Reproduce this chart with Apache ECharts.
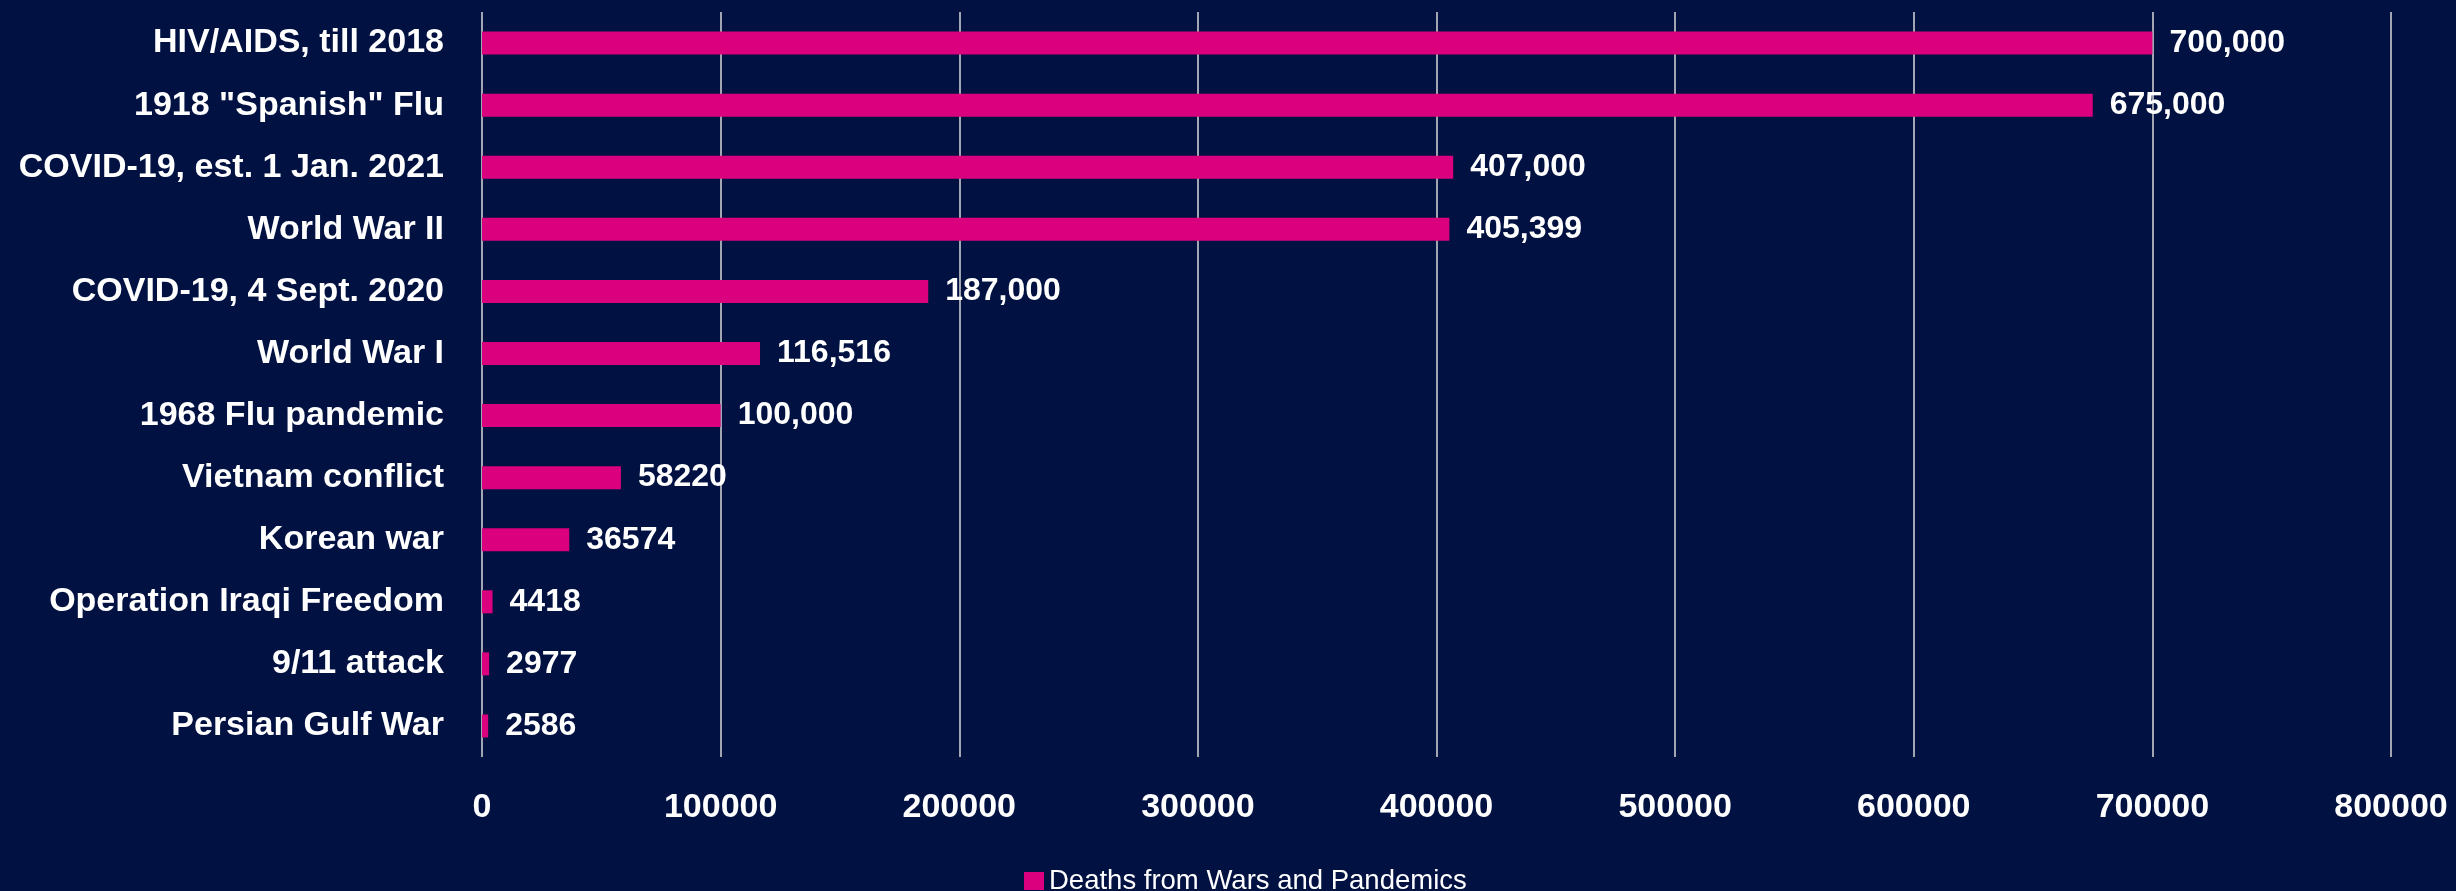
<!DOCTYPE html>
<html>
<head>
<meta charset="utf-8">
<title>Deaths from Wars and Pandemics</title>
<script src="https://cdn.jsdelivr.net/npm/echarts@6/dist/echarts.min.js"></script>
<style>
  html, body { margin: 0; padding: 0; background: #001142; }
  #chart { width: 2456px; height: 891px; }
</style>
</head>
<body>
<div id="chart"></div>
<script>
// Events, top to bottom
const categories = [
  'HIV/AIDS, till 2018',
  '1918 "Spanish" Flu',
  'COVID-19, est. 1 Jan. 2021',
  'World War II',
  'COVID-19, 4 Sept. 2020',
  'World War I',
  '1968 Flu pandemic',
  'Vietnam conflict',
  'Korean war',
  'Operation Iraqi Freedom',
  '9/11 attack',
  'Persian Gulf War'
];

// US deaths per event
const deaths = [700000, 675000, 407000, 405399, 187000, 116516, 100000, 58220, 36574, 4418, 2977, 2586];

// Value labels as written next to each bar
const valueLabels = ['700,000', '675,000', '407,000', '405,399', '187,000', '116,516', '100,000', '58220', '36574', '4418', '2977', '2586'];

const seriesName = 'Deaths from Wars and Pandemics';

// X axis range
const axisMin = 0;
const axisMax = 800000;
const axisStep = 100000;

const FONT = '"Liberation Sans", Arial, sans-serif';
const BAR = '#DA007E';

const chart = echarts.init(document.getElementById('chart'), null, { renderer: 'canvas' });

chart.setOption({
  backgroundColor: '#001142',
  animation: false,
  textStyle: { fontFamily: FONT },
  grid: { left: 482, right: 65, top: 12, bottom: 134, containLabel: false, outerBoundsMode: 'none' },
  legend: {
    data: [seriesName],
    left: 1019,
    top: 862,
    itemWidth: 20,
    itemHeight: 18,
    icon: 'rect',
    textStyle: { color: '#ffffff', fontFamily: FONT, fontSize: 27.5 }
  },
  xAxis: {
    type: 'value',
    min: axisMin,
    max: axisMax,
    interval: axisStep,
    axisLine: { show: false },
    axisTick: { show: false },
    splitLine: { show: true, lineStyle: { color: '#d9d9d9', width: 1.5 } },
    axisLabel: {
      color: '#ffffff',
      fontFamily: FONT,
      fontWeight: 'bold',
      fontSize: 34,
      margin: 34,
      formatter: (v) => String(v)
    }
  },
  yAxis: {
    type: 'category',
    data: categories,
    inverse: true,
    axisLine: { show: false },
    axisTick: { show: false },
    splitLine: { show: false },
    axisLabel: {
      color: '#ffffff',
      fontFamily: FONT,
      fontWeight: 'bold',
      fontSize: 34,
      margin: 38
    }
  },
  series: [{
    name: seriesName,
    type: 'bar',
    data: deaths,
    barWidth: 23,
    itemStyle: { color: BAR },
    label: {
      show: true,
      position: 'right',
      distance: 17,
      color: '#ffffff',
      fontFamily: FONT,
      fontWeight: 'bold',
      fontSize: 32,
      formatter: (p) => valueLabels[p.dataIndex]
    }
  }]
});
</script>
</body>
</html>
